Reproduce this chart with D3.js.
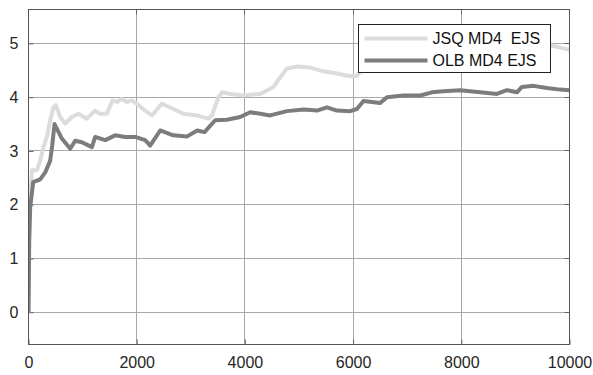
<!DOCTYPE html>
<html>
<head>
<meta charset="utf-8">
<script src="https://cdn.jsdelivr.net/npm/d3@7"></script>
<style>
  body { margin: 0; background: #fff; }
  text { font-family: "Liberation Sans", Arial, sans-serif; }
</style>
</head>
<body>
<div class="chart"></div>
<script>
// data ============================================================ //
var seriesNames = ["JSQ MD4  EJS", "OLB MD4 EJS"];
var xTicks = [0, 2000, 4000, 6000, 8000, 10000];
var yTicks = [0, 1, 2, 3, 4, 5];

var jsqX = [0, 13, 31, 63, 155, 216, 277, 340, 401, 462, 506, 586, 678, 802, 924, 1079,
  1233, 1325, 1449, 1553, 1634, 1726, 1819, 1911, 2033, 2157, 2281, 2466, 2680, 2865,
  3113, 3327, 3390, 3512, 3575, 3728, 3974, 4283, 4344, 4529, 4653, 4776, 4961, 5207,
  5453, 5700, 5946, 6070, 6131, 6500, 7500, 8500, 9200, 9669, 9798, 10000];
var jsqY = [0, 1.4, 2.1, 2.64, 2.64, 2.82, 3.07, 3.26, 3.57, 3.81, 3.85, 3.63, 3.51, 3.63,
  3.69, 3.6, 3.75, 3.69, 3.69, 3.94, 3.91, 3.97, 3.91, 3.94, 3.85, 3.75, 3.66, 3.88,
  3.78, 3.69, 3.66, 3.6, 3.66, 4.0, 4.09, 4.06, 4.03, 4.06, 4.09, 4.19, 4.37, 4.53,
  4.57, 4.55, 4.48, 4.44, 4.39, 4.4, 4.47, 4.6, 4.8, 4.9, 4.95, 4.96, 4.93, 4.88];

var olbX = [0, 13, 31, 87, 216, 309, 401, 438, 481, 617, 771, 863, 987, 1172, 1233, 1418,
  1602, 1787, 1972, 2157, 2249, 2434, 2675, 2933, 3118, 3253, 3451, 3667, 3913, 4098,
  4283, 4467, 4776, 5090, 5331, 5516, 5700, 5946, 6070, 6192, 6501, 6625, 6926, 7240,
  7456, 7671, 7979, 8349, 8658, 8843, 9028, 9120, 9335, 9582, 9828, 10000];
var olbY = [0, 1.33, 1.95, 2.42, 2.47, 2.6, 2.82, 3.1, 3.5, 3.23, 3.04, 3.19, 3.16, 3.07,
  3.26, 3.2, 3.29, 3.26, 3.26, 3.2, 3.1, 3.38, 3.29, 3.27, 3.38, 3.35, 3.57, 3.58, 3.63,
  3.72, 3.69, 3.66, 3.74, 3.77, 3.75, 3.81, 3.75, 3.74, 3.78, 3.93, 3.89, 4.0, 4.03,
  4.03, 4.09, 4.11, 4.13, 4.09, 4.06, 4.13, 4.09, 4.19, 4.21, 4.17, 4.14, 4.13];

// drawing ========================================================= //
var W = 593, H = 375;
var margin = { top: 9, right: 24, bottom: 31, left: 28 },
  width = W - margin.left - margin.right,
  height = H - margin.top - margin.bottom;

var svg = d3.select(".chart").append("svg")
  .attr("width", W).attr("height", H);

var g = svg.append("g")
  .attr("transform", "translate(" + (margin.left + 0.5) + "," + (margin.top + 0.5) + ")");

var x = d3.scaleLinear().domain([0, 10000]).range([0, width]);
var y = d3.scaleLinear().domain([-0.6, 5.63]).range([height, 0]);

// grid
g.selectAll(".vgrid").data(xTicks.slice(1, -1)).enter().append("line")
  .attr("x1", function (d) { return Math.round(x(d)); })
  .attr("x2", function (d) { return Math.round(x(d)); })
  .attr("y1", 0).attr("y2", height)
  .attr("stroke", "#a8a8a8").attr("stroke-width", 1);
g.selectAll(".hgrid").data(yTicks).enter().append("line")
  .attr("x1", 0).attr("x2", width)
  .attr("y1", function (d) { return Math.round(y(d)); })
  .attr("y2", function (d) { return Math.round(y(d)); })
  .attr("stroke", "#a8a8a8").attr("stroke-width", 1);

// axes (ticks pointing inward)
var fmt = d3.format("d");
var xAxis = g.append("g").attr("transform", "translate(0," + height + ")")
  .call(d3.axisBottom(x).tickValues(xTicks).tickFormat(fmt)
    .tickSizeInner(-5).tickSizeOuter(0).tickPadding(12));
var yAxis = g.append("g")
  .call(d3.axisLeft(y).tickValues(yTicks).tickFormat(fmt)
    .tickSizeInner(-5).tickSizeOuter(0).tickPadding(10));
[xAxis, yAxis].forEach(function (a) {
  a.select(".domain").remove();
  a.selectAll("line").attr("stroke", "#666");
  a.selectAll("text").attr("font-size", "16px").attr("fill", "#262626")
    .attr("font-family", "Liberation Sans, Arial, sans-serif");
});
// top/right ticks
g.selectAll(".rt").data(yTicks).enter().append("line")
  .attr("x1", width - 5).attr("x2", width)
  .attr("y1", function (d) { return Math.round(y(d)); })
  .attr("y2", function (d) { return Math.round(y(d)); })
  .attr("stroke", "#666");
g.selectAll(".tt").data(xTicks).enter().append("line")
  .attr("x1", function (d) { return Math.round(x(d)); })
  .attr("x2", function (d) { return Math.round(x(d)); })
  .attr("y1", 0).attr("y2", 5).attr("stroke", "#666");

// lines
var line = d3.line()
  .x(function (d) { return x(d[0]); })
  .y(function (d) { return y(d[1]); });

var series = [
  { name: seriesNames[0], pts: d3.zip(jsqX, jsqY), color: "#dcdcdc" },
  { name: seriesNames[1], pts: d3.zip(olbX, olbY), color: "#7c7c7c" }
];

svg.append("clipPath").attr("id", "clip").append("rect")
  .attr("width", width).attr("height", height);

g.selectAll(".series").data(series).enter().append("path")
  .attr("d", function (d) { return line(d.pts); })
  .attr("fill", "none")
  .attr("stroke", function (d) { return d.color; })
  .attr("stroke-width", 4)
  .attr("stroke-linejoin", "round")
  .attr("clip-path", "url(#clip)");

// frame
g.append("rect").attr("width", width).attr("height", height)
  .attr("fill", "none").attr("stroke", "#555").attr("stroke-width", 1);

// legend
var lg = svg.append("g").attr("transform", "translate(358.5,24.5)");
lg.append("rect").attr("width", 192).attr("height", 48)
  .attr("fill", "#fff").attr("stroke", "#222").attr("stroke-width", 1);
var items = lg.selectAll(".item").data(series).enter().append("g")
  .attr("transform", function (d, i) { return "translate(0," + (14 + i * 22) + ")"; });
items.append("line").attr("x1", 6).attr("x2", 69)
  .attr("stroke", function (d) { return d.color; }).attr("stroke-width", 4);
items.append("text").attr("x", 74).attr("dy", "0.36em")
  .attr("font-size", "16px").attr("fill", "#111")
  .style("white-space", "pre")
  .text(function (d) { return d.name; });
</script>
</body>
</html>
